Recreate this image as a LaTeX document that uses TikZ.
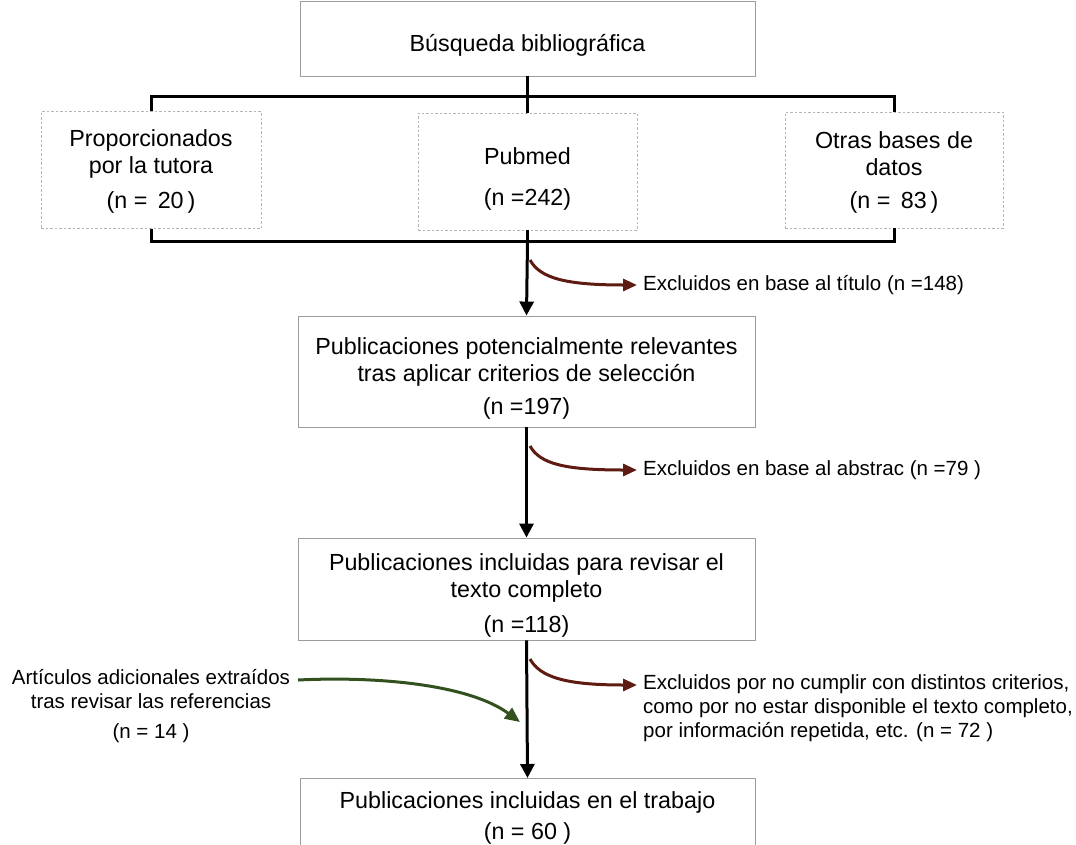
\documentclass[tikz,border=0pt]{standalone}
\usepackage{fontspec}
\setmainfont{Liberation Sans}
\usetikzlibrary{arrows.meta,positioning}
\definecolor{exclred}{HTML}{5E1B12}
\definecolor{addgreen}{HTML}{33501F}
\definecolor{boxgray}{HTML}{9C9C9C}
\begin{document}
\begin{tikzpicture}[x=1pt,y=1pt,
  box/.style={draw=boxgray,line width=0.9pt,inner sep=0pt},
  srcbox/.style={box,draw=boxgray!75,dash pattern=on 2.5pt off 2pt},
  boxtext/.style={align=center,inner sep=0pt,font=\fontsize{23.3}{27}\selectfont},
  side/.style={inner sep=0pt,font=\fontsize{20.5}{24}\selectfont},
  bracket/.style={line width=3pt},
  flow/.style={line width=3pt,-{Triangle[length=14pt,width=14pt]}},
  excl/.style={exclred,line width=3pt,-{Triangle[length=14pt,width=12pt]}},
  added/.style={addgreen,line width=3pt,-{Triangle[length=15pt,width=13pt]}}]
\useasboundingbox (0,0) rectangle (1076,-844);
% boxes
\node[box,minimum width=455pt,minimum height=75pt] (busq) at (527.5,-38.5) {};
\node[srcbox,minimum width=220pt,minimum height=117pt] (prov) at (151,-170) {};
\node[srcbox,minimum width=219pt,minimum height=117pt] (pub) at (527.5,-171.5) {};
\node[srcbox,minimum width=218pt,minimum height=116pt] (otras) at (894,-170) {};
\node[box,minimum width=457pt,minimum height=111pt] (sel) at (526.5,-371.5) {};
\node[box,minimum width=457pt,minimum height=102pt] (rev) at (526.5,-589) {};
\node[box,minimum width=455pt,minimum height=80pt,anchor=north] (fin) at (527.5,-778) {};
% box texts
\node[boxtext] (busqtxt) at ([yshift=-7pt]busq.center) {Búsqueda bibliográfica};
\node[boxtext] (provtxt) at ([yshift=-1pt]prov.center) {Proporcionados\\por la tutora\\[8pt](n = \,20\,)};
\node[boxtext] (pubtxt) at ([yshift=-7pt]pub.center) {Pubmed\\[14pt](n =242)};
\node[boxtext] (otrastxt) at ([yshift=-2pt]otras.center) {Otras bases de\\datos\\[6pt](n = \,83\,)};
\node[boxtext] (seltxt) at ([yshift=-7pt]sel.center) {Publicaciones potencialmente relevantes\\tras aplicar criterios de selección\\[6pt](n =197)};
\node[boxtext] (revtxt) at ([yshift=-6pt]rev.center) {Publicaciones incluidas para revisar el\\texto completo\\[8pt](n =118)};
\node[boxtext] (fintxt) at (fin.center) {Publicaciones incluidas en el trabajo\\[4pt](n = 60 )};
% bracket
\coordinate (top) at (527.5,-96);
\coordinate (bot) at (527.5,-241);
\draw[bracket] (prov.north) |- (top) -| (otras.north);
\draw[bracket] (busq.south) -- (pub.north);
\draw[bracket] (prov.south) |- (bot) -| (otras.south);
\draw[bracket] (pub.south) -- (bot);
% main flow
\draw[flow] (bot) -- (sel.north);
\draw[flow] (sel.south) -- (rev.north);
\draw[flow] (rev.south) -- (fin.north);
% exclusions
\coordinate (e1) at (530,-260); \coordinate (x1) at (637,-285);
\coordinate (e2) at (530,-446); \coordinate (x2) at (637,-470);
\coordinate (e3) at (530,-659); \coordinate (x3) at (637,-685);
\node[side,right=6pt of x1] (ex1) {Excluidos en base al título (n =148)};
\node[side,right=6pt of x2] (ex2) {Excluidos en base al abstrac (n =79 )};
\node[side,align=left,anchor=north west] (ex3) at (643,-674) {Excluidos por no cumplir con distintos criterios,\\como por no estar disponible el texto completo,\\por información repetida, etc. (n = 72 )};
\draw[excl] (e1) .. controls (540,-278) and (565,-285) .. (x1);
\draw[excl] (e2) .. controls (540,-464) and (565,-470) .. (x2);
\draw[excl] (e3) .. controls (540,-677) and (565,-685) .. (x3);
% added
\node[side,align=center] (add) at (151,-706) {Artículos adicionales extraídos\\tras revisar las referencias\\[6pt](n = 14 )};
\coordinate (g0) at (298,-680); \coordinate (g1) at (520,-722);
\draw[added] (g0) .. controls (380,-676) and (470,-685) .. (g1);
\end{tikzpicture}
\end{document}
